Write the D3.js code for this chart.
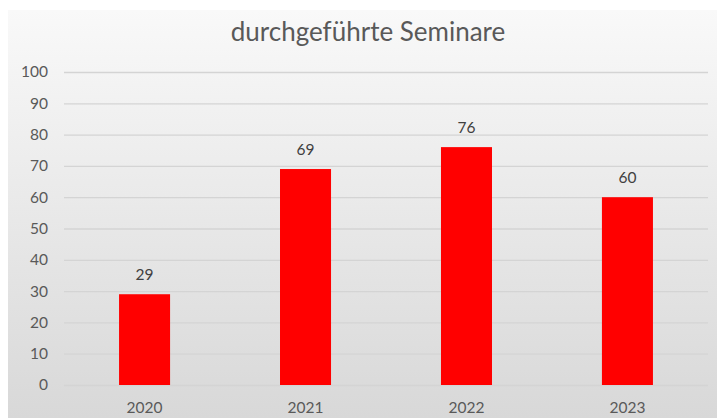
<!DOCTYPE html>
<html><head><meta charset="utf-8">
<script src="https://cdn.jsdelivr.net/npm/d3@7"></script>
<style>body{margin:0;background:#fff}svg{display:block}</style>
</head><body>
<script>
const title = "durchgeführte Seminare";
const categories = ["2020","2021","2022","2023"];
const values = [29,69,76,60];
const yTicks = [0,10,20,30,40,50,60,70,80,90,100];

const W = 717, H = 418;
const svg = d3.select("body").append("svg").attr("width", W).attr("height", H);
const defs = svg.append("defs");
const grad = defs.append("linearGradient").attr("id","bg").attr("x1",0).attr("y1",0).attr("x2",0).attr("y2",1);
grad.append("stop").attr("offset","0%").attr("stop-color","#f9f9f9");
grad.append("stop").attr("offset","100%").attr("stop-color","#d8d8d8");
svg.append("rect").attr("x",8).attr("y",10).attr("width",W-8).attr("height",H-10).attr("fill","url(#bg)");

const font = "Lato, 'Open Sans', sans-serif";
const x = d3.scaleBand().domain(categories).range([64,708]).paddingInner(0.683).paddingOuter(0.342);
const y = d3.scaleLinear().domain([0,100]).range([385,72]);

svg.append("text").attr("x",368).attr("y",41).attr("text-anchor","middle")
  .attr("font-family",font).attr("font-size",26).attr("fill","#595959").text(title);

const yAxis = svg.append("g").attr("transform","translate(64,0)")
  .call(d3.axisLeft(y).tickValues(yTicks).tickSize(-644).tickPadding(16).tickFormat(d3.format("d")));
yAxis.select(".domain").remove();
yAxis.selectAll(".tick line").attr("stroke","#d4d4d4").attr("stroke-width",1.3);
yAxis.selectAll(".tick text").attr("font-family",font).attr("font-size",15.5).attr("fill","#595959");

svg.append("g").selectAll("rect").data(values).join("rect")
  .attr("x",(d,i)=>x(categories[i])).attr("width",x.bandwidth())
  .attr("y",d=>y(d)).attr("height",d=>y(0)-y(d)).attr("fill","#ff0000");

svg.append("g").selectAll("text").data(values).join("text")
  .attr("x",(d,i)=>x(categories[i])+x.bandwidth()/2).attr("y",d=>y(d)-14)
  .attr("text-anchor","middle").attr("font-family",font).attr("font-size",15.5).attr("fill","#404040").text(d=>d);

const xAxis = svg.append("g").attr("transform","translate(0,385)")
  .call(d3.axisBottom(x).tickSize(0).tickPadding(17));
xAxis.select(".domain").remove();
xAxis.selectAll(".tick text").attr("font-family",font).attr("font-size",15.5).attr("fill","#595959");
</script>
</body></html>
